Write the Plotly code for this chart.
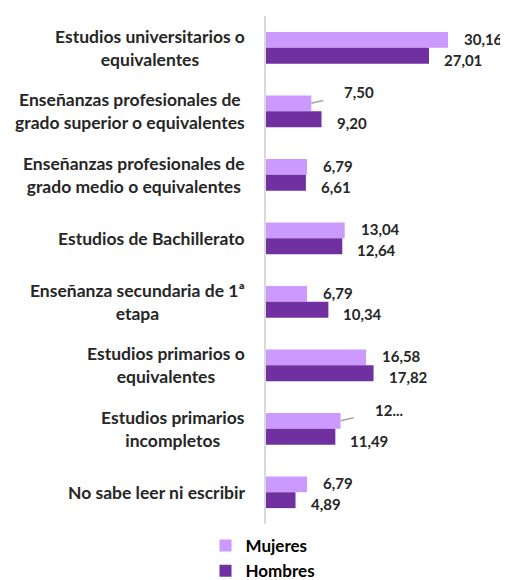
import plotly.graph_objects as go

# Datos
categorias = [
    "Estudios universitarios o<br>equivalentes",
    "Enseñanzas profesionales de<br>grado superior o equivalentes",
    "Enseñanzas profesionales de<br>grado medio o equivalentes",
    "Estudios de Bachillerato",
    "Enseñanza secundaria de 1ª<br>etapa",
    "Estudios primarios o<br>equivalentes",
    "Estudios primarios<br>incompletos",
    "No sabe leer ni escribir",
]
mujeres = [30.16, 7.50, 6.79, 13.04, 6.79, 16.58, 12.35, 6.79]
hombres = [27.01, 9.20, 6.61, 12.64, 10.34, 17.82, 11.49, 4.89]
etiquetas_mujeres = ["30,16", "7,50", "6,79", "13,04", "6,79", "16,58", "12...", "6,79"]
etiquetas_hombres = ["27,01", "9,20", "6,61", "12,64", "10,34", "17,82", "11,49", "4,89"]

FUENTE = "Lato"
COLOR_M = "#cc99ff"
COLOR_H = "#7030a0"

idx = list(range(len(categorias)))

fig = go.Figure()
fig.add_trace(go.Bar(y=idx, x=mujeres, orientation="h", name="<b>Mujeres</b>",
                     marker=dict(color=COLOR_M, line=dict(width=0))))
fig.add_trace(go.Bar(y=idx, x=hombres, orientation="h", name="<b>Hombres</b>",
                     marker=dict(color=COLOR_H, line=dict(width=0))))

anots = []
# etiquetas de categorías (centradas, a la izquierda del eje)
for i, cat in enumerate(categorias):
    anots.append(dict(xref="paper", x=0, xanchor="right", xshift=-19,
                      yref="y", y=i, yanchor="middle", align="center",
                      text="<b>" + cat + "</b>", showarrow=False,
                      font=dict(family=FUENTE, size=17.5, color="#262626")))

# etiquetas de valores
fuente_val = dict(family=FUENTE, size=15, color="#262626")
for i in idx:
    if etiquetas_mujeres[i] in ("7,50", "12..."):
        # etiqueta desplazada con línea guía
        anots.append(dict(xref="x", yref="y", x=mujeres[i], y=i - 0.125,
                          text="<b>" + etiquetas_mujeres[i] + "</b>",
                          showarrow=True, arrowhead=0, arrowwidth=1.5,
                          arrowcolor="#a6a6a6", ax=48, ay=-11, xanchor="center",
                          font=fuente_val, standoff=0, startstandoff=20))
    else:
        anots.append(dict(xref="x", yref="y", x=mujeres[i], y=i - 0.125,
                          xanchor="left", xshift=14, yshift=1, showarrow=False,
                          text="<b>" + etiquetas_mujeres[i] + "</b>", font=fuente_val))
    anots.append(dict(xref="x", yref="y", x=hombres[i], y=i + 0.125,
                      xanchor="left", xshift=13, yshift=-4, showarrow=False,
                      text="<b>" + etiquetas_hombres[i] + "</b>", font=fuente_val))

# la página añade 8 px de margen al cuerpo: la figura se reduce en consecuencia
fig.update_layout(
    width=500, height=572,
    margin=dict(l=258, r=0, t=8, b=56, autoexpand=False),
    paper_bgcolor="white", plot_bgcolor="white",
    barmode="group", bargap=0.5, bargroupgap=0,
    annotations=anots,
    showlegend=True,
    legend=dict(orientation="v", x=-0.25, xanchor="left", y=-0.008, yanchor="top",
                font=dict(family=FUENTE, size=17, color="#000000"),
                traceorder="normal", itemwidth=30, tracegroupgap=0,
                bgcolor="rgba(0,0,0,0)"),
    font=dict(family=FUENTE),
)
fig.update_xaxes(range=[0, 40.1], visible=False, showgrid=False, zeroline=False)
fig.update_yaxes(autorange="reversed", showticklabels=False, showgrid=False,
                 zeroline=False, showline=True, linecolor="#d9d9d9", linewidth=2,
                 ticks="")

fig.write_html("out.html")
